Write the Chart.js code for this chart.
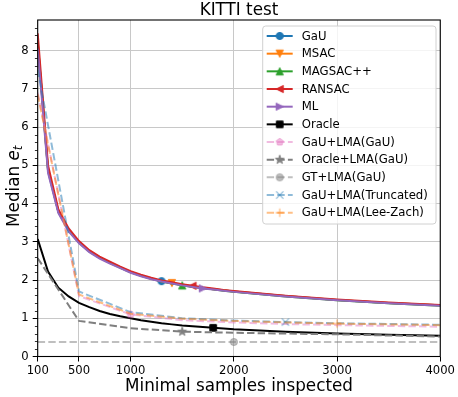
<!DOCTYPE html>
<html><head><meta charset="utf-8">
<script src="https://cdn.jsdelivr.net/npm/chart.js@4/dist/chart.umd.min.js"></script>
<style>html,body{margin:0;padding:0;background:#fff;overflow:hidden}#wrap{width:458px;height:397px;position:relative}</style>
</head><body><div id="wrap"><canvas id="c" width="458" height="397"></canvas></div>
<script>
// ---------------- data ----------------
const chartTitle = 'KITTI test';
const xLabel = 'Minimal samples inspected';
const xTicks = [100, 500, 1000, 2000, 3000, 4000];
const yTicks = [0, 1, 2, 3, 4, 5, 6, 7, 8];
const yMinorStep = 0.2;

const xSolid = [100,200,300,400,500,600,700,800,900,1000,1100,1200,1300,1400,1500,1600,1700,1800,1900,2000,2500,3000,3500,4000];
const gau    = [8.20,4.85,3.78,3.30,2.98,2.75,2.58,2.45,2.33,2.21,2.12,2.04,1.97,1.92,1.87,1.83,1.79,1.76,1.73,1.70,1.58,1.48,1.40,1.34];
const msac   = [8.20,4.88,3.80,3.31,2.99,2.76,2.59,2.46,2.33,2.21,2.12,2.04,1.97,1.92,1.87,1.83,1.79,1.76,1.73,1.70,1.58,1.48,1.40,1.34];
const magsac = [8.25,4.90,3.79,3.30,2.98,2.75,2.58,2.45,2.32,2.20,2.11,2.03,1.96,1.91,1.86,1.82,1.79,1.76,1.72,1.69,1.57,1.47,1.39,1.33];
const ransac = [8.45,5.00,3.85,3.35,3.02,2.78,2.61,2.48,2.35,2.23,2.14,2.06,1.99,1.94,1.89,1.85,1.81,1.78,1.74,1.71,1.59,1.49,1.41,1.35];
const ml     = [8.05,4.80,3.75,3.27,2.96,2.73,2.56,2.43,2.31,2.19,2.10,2.02,1.96,1.91,1.86,1.82,1.78,1.75,1.72,1.69,1.57,1.47,1.39,1.33];
const oracle = [3.07,2.22,1.80,1.57,1.40,1.29,1.19,1.11,1.05,1.00,0.95,0.91,0.87,0.84,0.81,0.79,0.77,0.75,0.73,0.71,0.65,0.60,0.57,0.54];

const xLma       = [100,500,1000,1500,2000,2500,3000,3500,4000];
const gauLmaGau  = [6.90,1.58,1.10,0.95,0.89,0.85,0.82,0.80,0.78];
const oracleLma  = [2.57,0.93,0.74,0.65,0.62,0.60,0.58,0.55,0.52];
const gtLma      = [0.38,0.38,0.38,0.38,0.38,0.38,0.38,0.38,0.38];
const lmaTrunc   = [7.50,1.70,1.16,1.00,0.94,0.90,0.87,0.85,0.83];
const lmaLeeZach = [6.85,1.62,1.12,0.99,0.93,0.89,0.86,0.84,0.82];

// x position where each series shows its single marker
const markerAt = {
  'GaU':1300, 'MSAC':1400, 'MAGSAC++':1500, 'RANSAC':1600, 'ML':1700, 'Oracle':1800,
  'GaU+LMA(GaU)':1000, 'Oracle+LMA(GaU)':1500, 'GT+LMA(GaU)':2000,
  'GaU+LMA(Truncated)':2500, 'GaU+LMA(Lee-Zach)':3000
};

// ---------------- styles ----------------
const FONT = '"DejaVu Sans", "Liberation Sans", sans-serif';
const series = [
  {label:'GaU',                x:xSolid, y:gau,        color:'#1f77b4',               marker:'o',    dash:false},
  {label:'MSAC',               x:xSolid, y:msac,       color:'#ff7f0e',               marker:'v',    dash:false},
  {label:'MAGSAC++',           x:xSolid, y:magsac,     color:'#2ca02c',               marker:'^',    dash:false},
  {label:'RANSAC',             x:xSolid, y:ransac,     color:'#d62728',               marker:'<',    dash:false},
  {label:'ML',                 x:xSolid, y:ml,         color:'#9467bd',               marker:'>',    dash:false},
  {label:'Oracle',             x:xSolid, y:oracle,     color:'#000000',               marker:'s',    dash:false},
  {label:'GaU+LMA(GaU)',       x:xLma,   y:gauLmaGau,  color:'rgba(227,119,194,0.5)', marker:'p',    dash:true},
  {label:'Oracle+LMA(GaU)',    x:xLma,   y:oracleLma,  color:'#7f7f7f',               marker:'*',    dash:true},
  {label:'GT+LMA(GaU)',        x:xLma,   y:gtLma,      color:'rgba(127,127,127,0.5)', marker:'o',    dash:true},
  {label:'GaU+LMA(Truncated)', x:xLma,   y:lmaTrunc,   color:'rgba(31,119,180,0.5)',  marker:'x',    dash:true},
  {label:'GaU+LMA(Lee-Zach)',  x:xLma,   y:lmaLeeZach, color:'rgba(255,127,14,0.5)',  marker:'+',    dash:true}
];

function makeMarker(kind, color) {
  const s = 16, c = document.createElement('canvas');
  c.width = s; c.height = s;
  const g = c.getContext('2d');
  g.translate(s / 2, s / 2);
  g.fillStyle = color; g.strokeStyle = color; g.lineWidth = 1; g.lineJoin = 'miter';
  const r = 3.6;
  const poly = pts => { g.beginPath(); pts.forEach((p, i) => i ? g.lineTo(p[0], p[1]) : g.moveTo(p[0], p[1])); g.closePath(); g.fill(); g.stroke(); };
  switch (kind) {
    case 'o': g.beginPath(); g.arc(0, 0, r, 0, 2 * Math.PI); g.fill(); g.stroke(); break;
    case '^': poly([[0, -r], [-r, r], [r, r]]); break;
    case 'v': poly([[0, r], [-r, -r], [r, -r]]); break;
    case '<': poly([[-r, 0], [r, -r], [r, r]]); break;
    case '>': poly([[r, 0], [-r, -r], [-r, r]]); break;
    case 's': poly([[-3.3, -3.3], [3.3, -3.3], [3.3, 3.3], [-3.3, 3.3]]); break;
    case 'p': { const pts = []; for (let k = 0; k < 5; k++) { const a = -Math.PI / 2 + k * 2 * Math.PI / 5; pts.push([3.8 * Math.cos(a), 3.8 * Math.sin(a)]); } poly(pts); break; }
    case '*': { const pts = []; for (let k = 0; k < 10; k++) { const a = -Math.PI / 2 + k * Math.PI / 5; const rr = k % 2 ? 1.8 : 4.6; pts.push([rr * Math.cos(a), rr * Math.sin(a)]); } poly(pts); break; }
    case 'x': g.lineWidth = 1.3; g.beginPath(); g.moveTo(-r, -r); g.lineTo(r, r); g.moveTo(-r, r); g.lineTo(r, -r); g.stroke(); break;
    case '+': g.lineWidth = 1.3; g.beginPath(); g.moveTo(-4.2, 0); g.lineTo(4.2, 0); g.moveTo(0, -4.2); g.lineTo(0, 4.2); g.stroke(); break;
  }
  return c;
}

const N = series.length;
const datasets = series.map((s, i) => {
  const at = markerAt[s.label];
  return {
    label: s.label,
    data: s.x.map((xv, k) => ({x: xv, y: s.y[k]})),
    borderColor: s.color,
    backgroundColor: s.color,
    borderWidth: 2,
    borderDash: s.dash ? [7.4, 3.2] : [],
    pointStyle: makeMarker(s.marker, s.color),
    pointRadius: c => (c.raw && c.raw.x === at) ? 4 : 0,
    pointHoverRadius: c => (c.raw && c.raw.x === at) ? 4 : 0,
    tension: 0,
    fill: false,
    order: N - i
  };
});

const decor = {
  id: 'decor',
  afterDraw(chart) {
    const {ctx, chartArea: a, scales} = chart;
    ctx.save();
    // minor ticks on y
    const ys = scales.y;
    ctx.strokeStyle = '#000'; ctx.lineWidth = 0.8;
    for (let k = 1; k * yMinorStep < ys.max; k++) {
      const v = k * yMinorStep;
      if (Math.abs(v - Math.round(v)) < 1e-6) continue;
      const py = Math.round(ys.getPixelForValue(v)) + 0.5;
      ctx.beginPath(); ctx.moveTo(a.left - 2.8, py); ctx.lineTo(a.left, py); ctx.stroke();
    }
    // frame
    ctx.lineWidth = 1.1;
    ctx.strokeRect(a.left, a.top, a.right - a.left, a.bottom - a.top);
    // title
    ctx.fillStyle = '#000';
    ctx.font = '16.8px ' + FONT;
    ctx.textAlign = 'center'; ctx.textBaseline = 'alphabetic';
    ctx.fillText(chartTitle, (a.left + a.right) / 2, 14.5);
    // x label
    ctx.fillText(xLabel, (a.left + a.right) / 2, 390.5);
    // y label with subscript
    ctx.save();
    ctx.translate(18.5, (a.top + a.bottom) / 2 - 2);
    ctx.rotate(-Math.PI / 2);
    ctx.textAlign = 'left';
    const f1 = '16.8px ' + FONT, f2 = 'italic 16.8px ' + FONT, f3 = 'italic 11.8px ' + FONT;
    ctx.font = f1; const w1 = ctx.measureText('Median ').width;
    ctx.font = f2; const w2 = ctx.measureText('e').width;
    ctx.font = f3; const w3 = ctx.measureText('t').width;
    let x0 = -(w1 + w2 + w3) / 2;
    ctx.font = f1; ctx.fillText('Median ', x0, 0); x0 += w1;
    ctx.font = f2; ctx.fillText('e', x0, 0); x0 += w2;
    ctx.font = f3; ctx.fillText('t', x0, 3.6);
    ctx.restore();
    // legend
    const L = {left: 262.7, top: 26, right: 436, bottom: 224};
    ctx.beginPath();
    if (ctx.roundRect) ctx.roundRect(L.left, L.top, L.right - L.left, L.bottom - L.top, 3);
    else ctx.rect(L.left, L.top, L.right - L.left, L.bottom - L.top);
    ctx.fillStyle = 'rgba(255,255,255,0.8)'; ctx.fill();
    ctx.strokeStyle = '#d0d0d0'; ctx.lineWidth = 1; ctx.stroke();
    ctx.font = '11.7px ' + FONT; ctx.textBaseline = 'middle'; ctx.textAlign = 'left';
    chart.data.datasets.forEach((ds, i) => {
      const y = 36 + i * 17.67;
      ctx.save();
      ctx.strokeStyle = ds.borderColor; ctx.lineWidth = ds.borderWidth;
      ctx.setLineDash(ds.borderDash);
      ctx.beginPath(); ctx.moveTo(266.7, y); ctx.lineTo(292.7, y); ctx.stroke();
      ctx.restore();
      const m = ds.pointStyle;
      ctx.drawImage(m, 279.7 - m.width / 2, y - m.height / 2);
      ctx.fillStyle = '#000';
      ctx.fillText(ds.label, 301.7, y + 0.5);
    });
    ctx.restore();
  }
};

Chart.defaults.font.family = FONT;
Chart.defaults.font.size = 11.6;
Chart.defaults.color = '#000';

new Chart(document.getElementById('c'), {
  type: 'line',
  data: {datasets},
  options: {
    responsive: false,
    animation: false,
    events: [],
    layout: {padding: {left: 0, right: 15.3, top: 20, bottom: 0}},
    plugins: {legend: {display: false}, title: {display: false}, tooltip: {enabled: false}},
    scales: {
      x: {
        type: 'linear', min: 100, max: 4000,
        afterBuildTicks: s => { s.ticks = xTicks.map(v => ({value: v})); },
        afterFit: s => { s.height = 40.5; },
        ticks: {callback: v => String(v), maxRotation: 0, autoSkip: false, padding: 3, font: {size: 11.6}},
        grid: {color: '#c8c8c8', lineWidth: 1, tickColor: '#000', tickLength: 5, tickWidth: 1},
        border: {display: false}
      },
      y: {
        type: 'linear', min: 0, max: 8.8,
        afterBuildTicks: s => { s.ticks = yTicks.map(v => ({value: v})); },
        afterFit: s => { s.width = 37.7; },
        ticks: {callback: v => String(v), padding: 4, font: {size: 11.6}},
        grid: {color: '#c8c8c8', lineWidth: 1, tickColor: '#000', tickLength: 5, tickWidth: 1},
        border: {display: false}
      }
    }
  },
  plugins: [decor]
});
</script></body></html>
